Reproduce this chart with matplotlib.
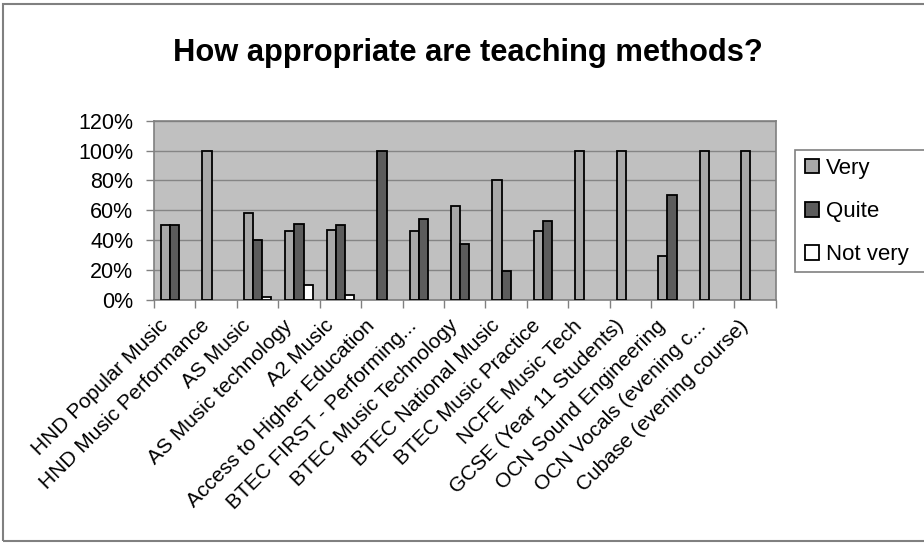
import matplotlib
matplotlib.use('Agg')
import matplotlib.pyplot as plt
from matplotlib.patches import Rectangle
from matplotlib.ticker import FixedLocator, PercentFormatter
from matplotlib.transforms import ScaledTranslation
import numpy as np

plt.rcParams['font.family'] = ['Liberation Sans', 'DejaVu Sans']

# --- survey results (% of respondents per course) ---
courses = ['HND Popular Music', 'HND Music Performance', 'AS Music',
           'AS Music technology', 'A2 Music', 'Access to Higher Education',
           'BTEC FIRST - Performing...', 'BTEC Music Technology',
           'BTEC National Music', 'BTEC Music Practice', 'NCFE Music Tech',
           'GCSE (Year 11 Students)', 'OCN Sound Engineering',
           'OCN Vocals (evening c...', 'Cubase (evening course)']
very     = [50, 100, 58, 46, 47,   0, 46, 63, 80, 46, 100, 100, 29, 100, 100]
quite    = [50,   0, 40, 51, 50, 100, 54, 37, 19, 53,   0,   0, 70,   0,   0]
not_very = [ 0,   0,  2, 10,  3,   0,  0,  0,  0,  0,   0,   0,  0,   0,   0]
series = [('Very', very, '#a8a8a8'),
          ('Quite', quite, '#5c5c5c'),
          ('Not very', not_very, '#ffffff')]
yticks = [0, 20, 40, 60, 80, 100, 120]

fig = plt.figure(figsize=(9.24, 5.43), dpi=100)
ax = fig.add_axes([0.1667, 0.4484, 0.6726, 0.3288])
ax.set_facecolor('#c0c0c0')

x = np.arange(len(courses))
w = 1 / 4.5
for k, (name, vals, col) in enumerate(series):
    vals = np.array(vals)
    keep = vals > 0   # empty categories get no bar at all
    ax.bar(x[keep] + (k - 1) * w, vals[keep], width=w, color=col,
           edgecolor='black', linewidth=1.3, label=name, zorder=3)

ax.set_xlim(-0.5, len(courses) - 0.5)
ax.set_ylim(0, 120)
ax.set_yticks(yticks)
ax.yaxis.set_major_formatter(PercentFormatter(decimals=0))
ax.grid(axis='y', color='#858585', linewidth=1, zorder=0)
ax.tick_params(axis='y', labelsize=15.5, length=6, width=1, color='#808080', pad=9)

ax.set_xticks(x)
ax.set_xticklabels(courses, rotation=45, ha='right', rotation_mode='anchor',
                   fontsize=15)
ax.tick_params(axis='x', which='major', length=0, pad=8)
shift = ScaledTranslation(-12 / 72, -4 / 72, fig.dpi_scale_trans)
for lab in ax.get_xticklabels():
    lab.set_transform(lab.get_transform() + shift)
ax.xaxis.set_minor_locator(FixedLocator(np.arange(len(courses) + 1) - 0.5))
ax.tick_params(axis='x', which='minor', length=6, width=1, color='#808080')
for s in ax.spines.values():
    s.set_color('#808080')
    s.set_linewidth(1.2)

fig.suptitle('How appropriate are teaching methods?', fontsize=22.2,
             fontweight='bold', x=0.5065, y=0.93)

# legend box runs past the right edge of the chart area
fig.patches.append(Rectangle((795 / 924, 1 - 272 / 543), 0.2, 122 / 543,
                             transform=fig.transFigure, facecolor='white',
                             edgecolor='#808080', linewidth=1.2))
fig.legend(loc='upper left', bbox_to_anchor=(797 / 924, 1 - 150 / 543),
           frameon=False, fontsize=16, handlelength=0.65, handleheight=0.65,
           handletextpad=0.3, labelspacing=1.0, borderpad=0.35,
           borderaxespad=0)

# outer chart border (open on the right)
fig.patches.append(Rectangle((3 / 924, 2 / 543), 1.2, 537 / 543,
                             transform=fig.transFigure, fill=False,
                             edgecolor='#808080', linewidth=1.5))

fig.savefig('out.png', dpi=100)
